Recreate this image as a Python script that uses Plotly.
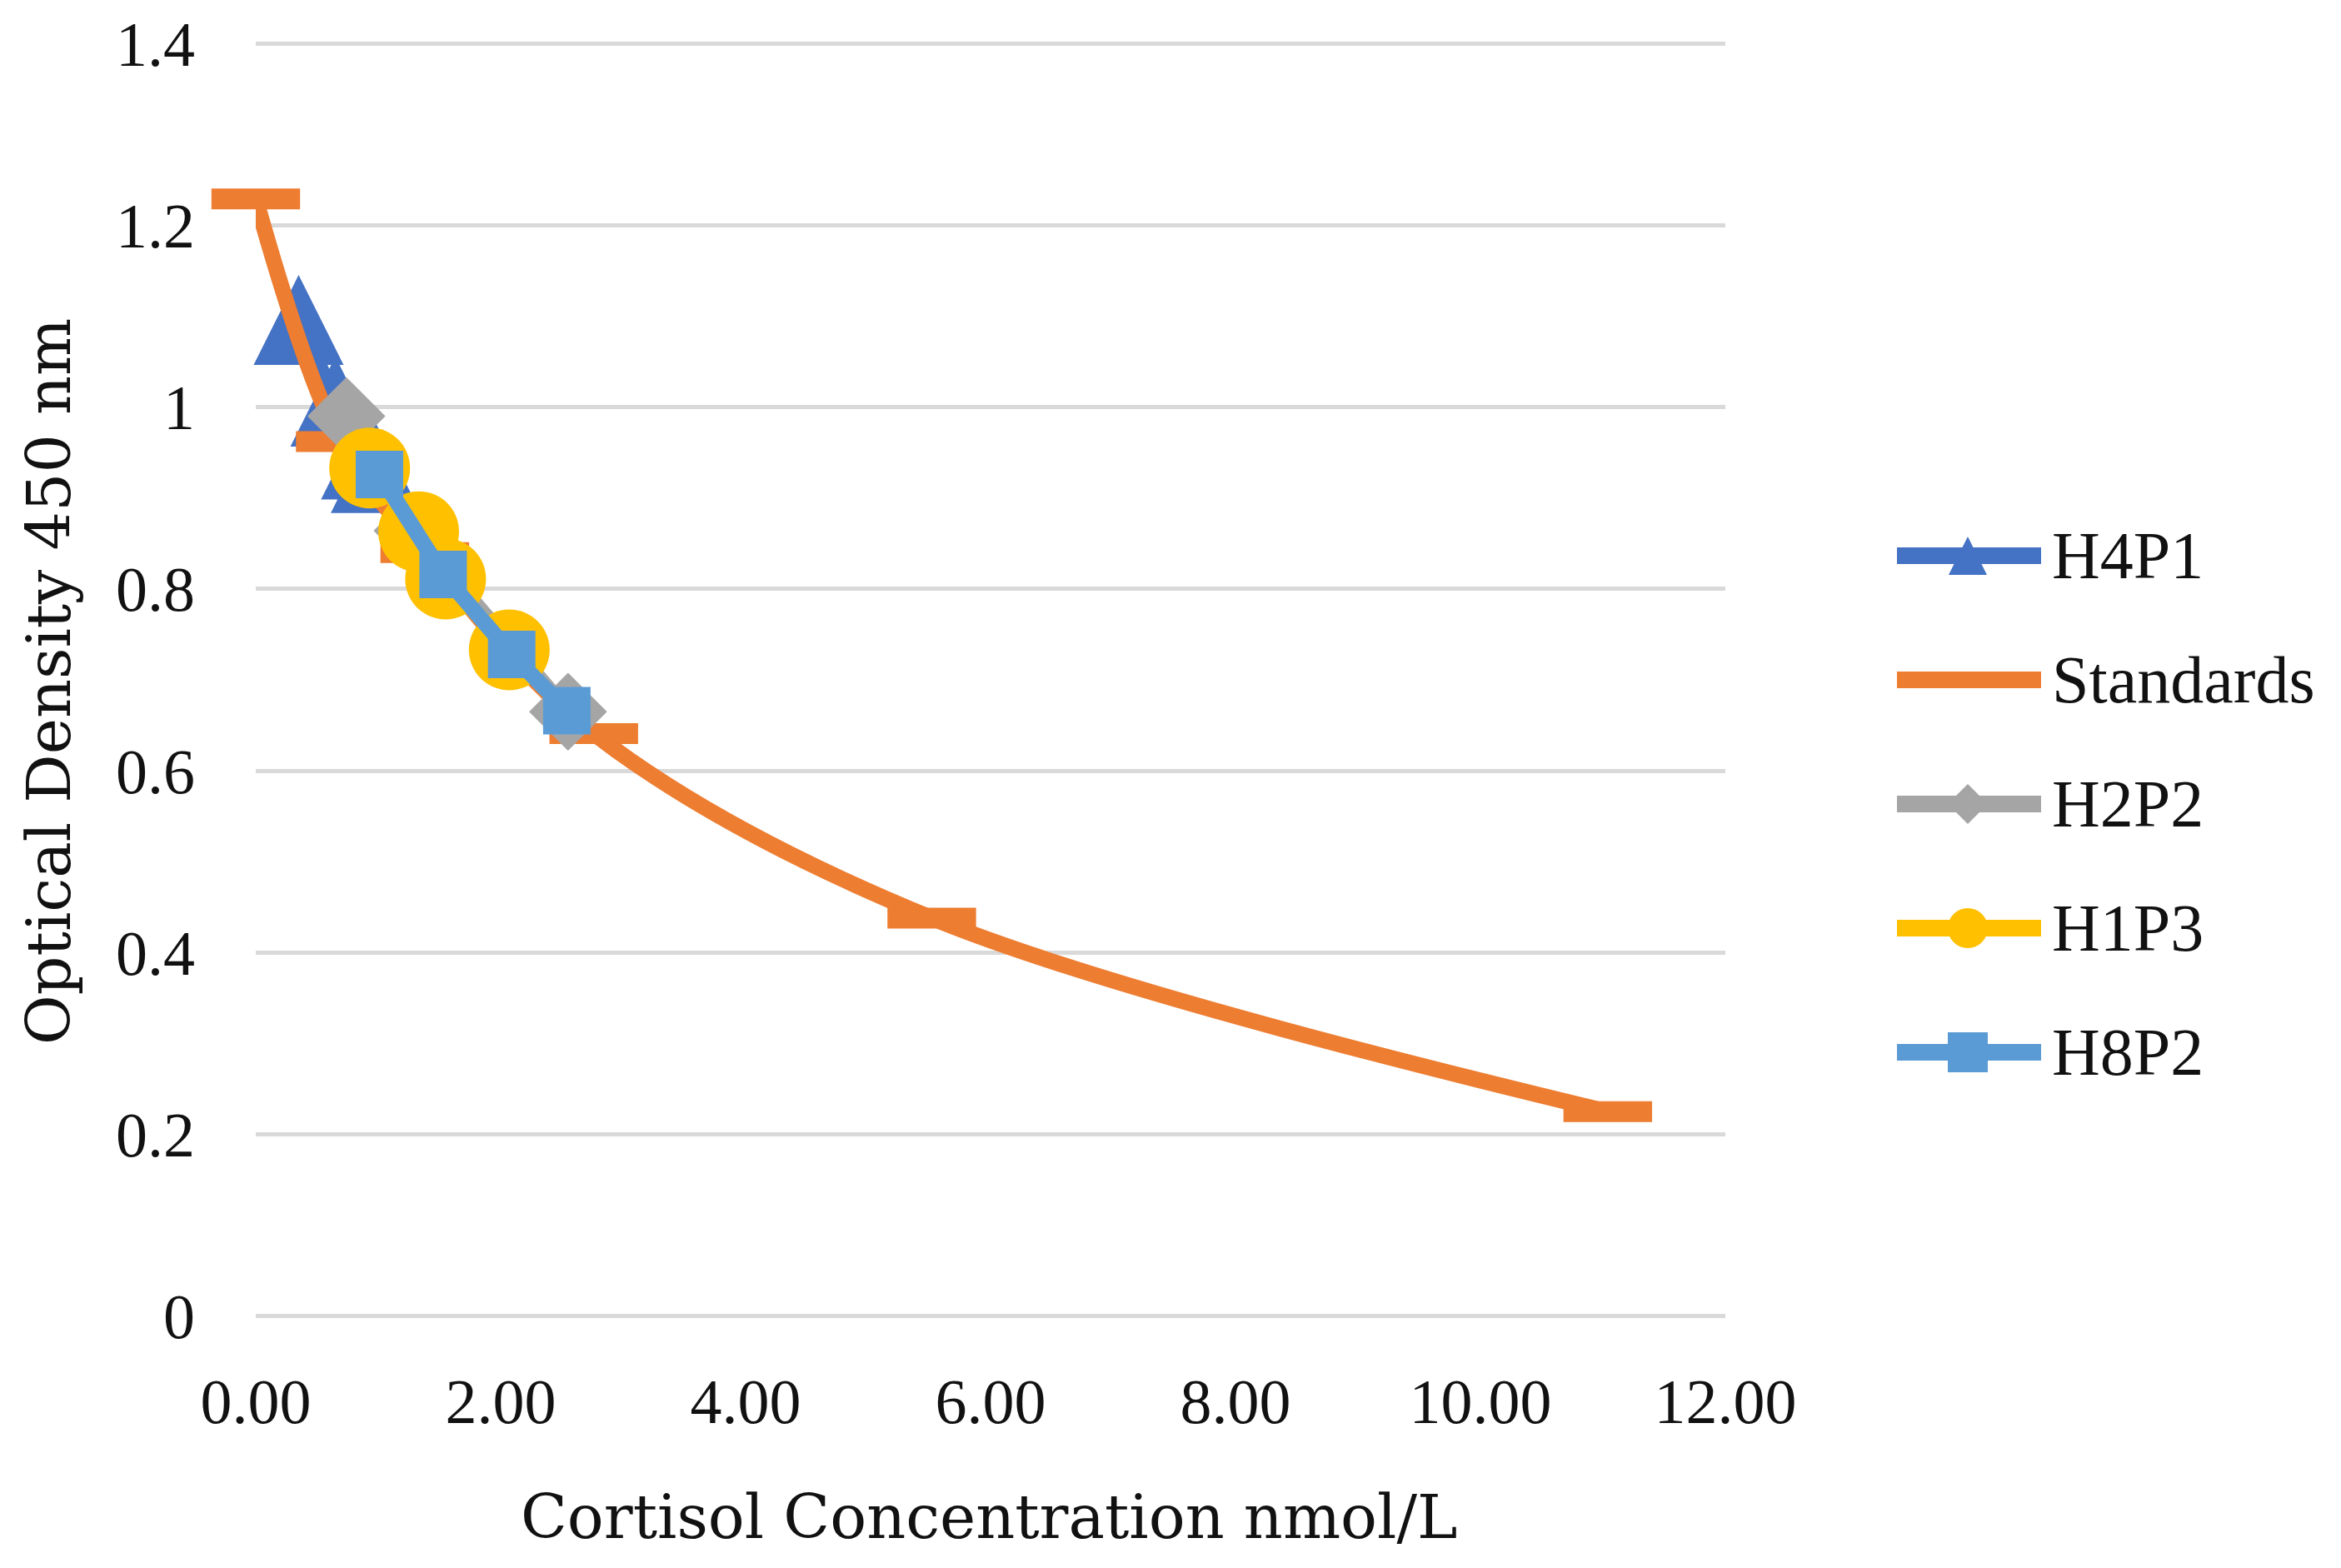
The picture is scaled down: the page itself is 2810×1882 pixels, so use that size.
import plotly.graph_objects as go

# ---------------- data ----------------
std_x = [0.0, 0.69, 1.38, 2.76, 5.52, 11.04]
std_y = [1.229, 0.962, 0.840, 0.641, 0.438, 0.225]

h4p1_x = [0.35, 0.65, 0.90, 0.98]
h4p1_y = [1.096, 1.006, 0.948, 0.933]

h2p2_x = [0.74, 1.28, 2.55]
h2p2_y = [0.990, 0.864, 0.665]

h1p3_x = [0.93, 1.33, 1.55, 2.07]
h1p3_y = [0.933, 0.863, 0.811, 0.733]

h8p2_x = [1.01, 1.53, 2.09, 2.54]
h8p2_y = [0.926, 0.816, 0.728, 0.666]

x_tick_vals = [0, 2, 4, 6, 8, 10, 12]
x_tick_text = ["0.00", "2.00", "4.00", "6.00", "8.00", "10.00", "12.00"]
y_tick_vals = [0, 0.2, 0.4, 0.6, 0.8, 1.0, 1.2, 1.4]
y_tick_text = ["0", "0.2", "0.4", "0.6", "0.8", "1", "1.2", "1.4"]

series_names = ["H4P1", "Standards", "H2P2", "H1P3", "H8P2"]
series_colors = ["#4472C4", "#ED7D31", "#A5A5A5", "#FFC000", "#5B9BD5"]

# ---------------- layout geometry (screen pixels) ----------------
OFF = 8                      # default page body margin
SW, SH = 2810, 1882          # screen size
W, H = SW - 2 * OFF, SH - 2 * OFF
P_LEFT, P_RIGHT, P_TOP, P_BOTTOM = 307, 2071, 50, 1582   # plot area on screen
ML = P_LEFT - OFF
MT = P_TOP - OFF
MR = W - (P_RIGHT - OFF)
MB = H - (P_BOTTOM - OFF)
PW = P_RIGHT - P_LEFT
PH = P_BOTTOM - P_TOP

TICK_FONT = "Liberation Serif"
TITLE_FONT = "DejaVu Serif"
LINE_W = 19
EPS = 0.002


def paper(px, py):
    return (px - P_LEFT) / PW, (P_BOTTOM - py) / PH


fig = go.Figure()

# H4P1 - triangles (isosceles, centred on the point)
fig.add_trace(go.Scatter(
    x=h4p1_x, y=h4p1_y, mode="lines+markers", name="H4P1",
    line=dict(color=series_colors[0], width=LINE_W),
    marker=dict(symbol="arrow-down", size=108, angle=180, standoff=54,
                color=series_colors[0], line=dict(width=0)),
    cliponaxis=False, showlegend=False))

# Standards - dash markers, smoothed line
fig.add_trace(go.Scatter(
    x=std_x, y=std_y, mode="lines+markers", name="Standards",
    line=dict(color=series_colors[1], width=LINE_W, shape="spline", smoothing=1.0),
    marker=dict(symbol="line-ew", size=76, color=series_colors[1],
                line=dict(color=series_colors[1], width=25)),
    cliponaxis=False, showlegend=False))

# H2P2 - diamonds
fig.add_trace(go.Scatter(
    x=h2p2_x, y=h2p2_y, mode="lines+markers", name="H2P2",
    line=dict(color=series_colors[2], width=LINE_W),
    marker=dict(symbol="diamond", size=72, color=series_colors[2], line=dict(width=0)),
    cliponaxis=False, showlegend=False))

# H1P3 - circles
fig.add_trace(go.Scatter(
    x=h1p3_x, y=h1p3_y, mode="lines+markers", name="H1P3",
    line=dict(color=series_colors[3], width=LINE_W),
    marker=dict(symbol="circle", size=97, color=series_colors[3], line=dict(width=0)),
    cliponaxis=False, showlegend=False))

# H8P2 - squares
fig.add_trace(go.Scatter(
    x=h8p2_x, y=h8p2_y, mode="lines+markers", name="H8P2",
    line=dict(color=series_colors[4], width=LINE_W),
    marker=dict(symbol="square", size=57, color=series_colors[4], line=dict(width=0)),
    cliponaxis=False, showlegend=False))

# ---------------- manual legend (decoration) ----------------
shapes = []
annotations = []
leg_rows = [667, 816, 965, 1114, 1263]
lx0, lx1, lcx = 2277, 2450, 2362
legend_symbols = ["triangle", None, "diamond", "circle", "square"]
for name, col, sym, ry in zip(series_names, series_colors, legend_symbols, leg_rows):
    a = paper(lx0, ry)
    b = paper(lx1, ry)
    shapes.append(dict(type="line", xref="paper", yref="paper",
                       x0=a[0], y0=a[1], x1=b[0], y1=b[1],
                       line=dict(color=col, width=20)))
    if sym == "triangle":
        p1 = paper(lcx - 23, ry + 23)
        p2 = paper(lcx + 23, ry + 23)
        p3 = paper(lcx, ry - 23)
        shapes.append(dict(type="path", xref="paper", yref="paper",
                           path=f"M{p1[0]},{p1[1]} L{p2[0]},{p2[1]} L{p3[0]},{p3[1]} Z",
                           fillcolor=col, line=dict(width=0)))
    elif sym == "diamond":
        p1 = paper(lcx - 24, ry)
        p2 = paper(lcx, ry - 24)
        p3 = paper(lcx + 24, ry)
        p4 = paper(lcx, ry + 24)
        shapes.append(dict(type="path", xref="paper", yref="paper",
                           path=f"M{p1[0]},{p1[1]} L{p2[0]},{p2[1]} L{p3[0]},{p3[1]} L{p4[0]},{p4[1]} Z",
                           fillcolor=col, line=dict(width=0)))
    elif sym in ("circle", "square"):
        q0 = paper(lcx - 24, ry + 24)
        q1 = paper(lcx + 24, ry - 24)
        shapes.append(dict(type="circle" if sym == "circle" else "rect",
                           xref="paper", yref="paper",
                           x0=q0[0], y0=q0[1], x1=q1[0], y1=q1[1],
                           fillcolor=col, line=dict(width=0)))
    t = paper(2461, ry)
    annotations.append(dict(text=name, xref="paper", yref="paper", x=t[0], y=t[1],
                            xanchor="left", yanchor="middle", showarrow=False,
                            font=dict(family=TICK_FONT, size=80, color="#111111")))

# axis titles
xt = paper(0, 1820)
annotations.append(dict(text="Cortisol Concentration nmol/L", xref="paper", yref="paper",
                        x=paper(1187, 0)[0], y=xt[1], xanchor="center", yanchor="middle",
                        showarrow=False,
                        font=dict(family=TITLE_FONT, size=73, color="#111111")))
yt = paper(58, 818)
annotations.append(dict(text="Optical Density 450 nm", xref="paper", yref="paper",
                        x=yt[0], y=yt[1], xanchor="center", yanchor="middle", showarrow=False,
                        textangle=-90,
                        font=dict(family=TITLE_FONT, size=73, color="#111111")))

fig.update_layout(
    width=W, height=H,
    margin=dict(l=ML, r=MR, t=MT, b=MB, pad=0),
    paper_bgcolor="white", plot_bgcolor="white",
    showlegend=False,
    shapes=shapes, annotations=annotations,
    xaxis=dict(range=[0, 12], tickvals=x_tick_vals, ticktext=x_tick_text,
               showgrid=False, zeroline=False, showline=False, ticks="",
               automargin=False, ticklabelstandoff=49,
               tickfont=dict(family=TICK_FONT, size=76, color="#111111")),
    yaxis=dict(range=[-EPS, 1.4 + EPS], tickvals=y_tick_vals, ticktext=y_tick_text,
               showgrid=True, gridcolor="#D9D9D9", gridwidth=5,
               zeroline=False, showline=False, ticks="",
               automargin=False, ticklabelstandoff=72,
               tickfont=dict(family=TICK_FONT, size=76, color="#111111")),
)

fig.write_html("out.html")
